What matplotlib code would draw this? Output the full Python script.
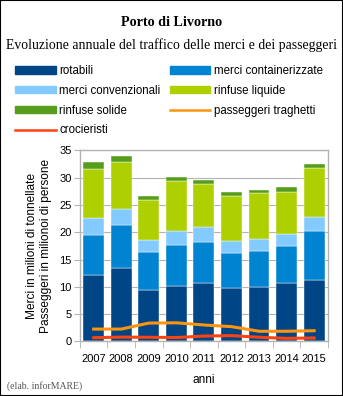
import numpy as np
import matplotlib.pyplot as plt
from matplotlib.patches import Patch, Rectangle
from matplotlib.lines import Line2D

anni = ['2007', '2008', '2009', '2010', '2011', '2012', '2013', '2014', '2015']

# merci (milioni di tonnellate)
rotabili = [12.2, 13.4, 9.4, 10.2, 10.7, 9.7, 9.9, 10.7, 11.3]
containerizzate = [7.3, 7.95, 7.0, 7.4, 7.6, 6.5, 6.6, 6.7, 8.9]
convenzionali = [3.1, 2.85, 2.2, 2.6, 2.7, 2.2, 2.3, 2.2, 2.6]
rinfuse_liquide = [9.0, 8.6, 7.4, 9.2, 7.8, 8.3, 8.4, 7.8, 9.0]
rinfuse_solide = [1.2, 1.2, 0.7, 0.8, 0.8, 0.7, 0.6, 0.9, 0.8]

# passeggeri (milioni di persone)
traghetti = [2.25, 2.25, 3.35, 3.4, 3.0, 2.7, 1.85, 1.85, 1.95]
crocieristi = [0.67, 0.78, 0.75, 0.7, 0.97, 1.05, 0.75, 0.55, 0.62]

serie = [
    ('rotabili', rotabili, '#004586'),
    ('merci containerizzate', containerizzate, '#0084d1'),
    ('merci convenzionali', convenzionali, '#83caff'),
    ('rinfuse liquide', rinfuse_liquide, '#aecf00'),
    ('rinfuse solide', rinfuse_solide, '#579d1c'),
]

sans = 'Liberation Sans'
serif = 'Liberation Serif'

fig = plt.figure(figsize=(3.43, 3.96), dpi=100)
fig.patches.append(Rectangle((0, 0), 1, 1, transform=fig.transFigure,
                             fill=False, edgecolor='black', linewidth=1.5))

ax = fig.add_axes([0.233, 0.138, 0.723, 0.482])
x = np.arange(len(anni))
base = np.zeros(len(anni))
handles = {}
for nome, vals, col in serie:
    ax.bar(x, vals, width=0.76, bottom=base, color=col, edgecolor='white',
           linewidth=0.3, zorder=2)
    base += np.array(vals)
    handles[nome] = Patch(facecolor=col, edgecolor=col)

ax.plot(x, traghetti, color='#ff950e', linewidth=2.2, zorder=3)
ax.plot(x, crocieristi, color='#ff420e', linewidth=2.2, zorder=3)
handles['passeggeri traghetti'] = Line2D([], [], color='#ff950e', linewidth=1.8)
handles['crocieristi'] = Line2D([], [], color='#ff420e', linewidth=1.8)

ax.set_xlim(-0.5, len(anni) - 0.5)
ax.set_ylim(0, 35)
ax.set_yticks(range(0, 36, 5))
ax.set_xticks(x)
ax.set_xticklabels(anni, fontsize=8, family=sans)
ax.set_xticks(np.arange(-0.5, len(anni)), minor=True)
ax.tick_params(axis='x', which='major', length=0, pad=9)
ax.tick_params(axis='x', which='minor', length=5, color='#b3b3b3')
ax.tick_params(axis='y', length=4, color='#b3b3b3', labelsize=8, pad=2)
for lab in ax.get_yticklabels():
    lab.set_family(sans)
ax.yaxis.grid(True, color='#b3b3b3', linewidth=0.8, zorder=0)
ax.set_axisbelow(True)
for s in ax.spines.values():
    s.set_color('#b3b3b3')
    s.set_linewidth(1)

ax.set_ylabel('Merci in milioni di tonnellate\nPasseggeri in milionoi di persone',
              fontsize=8.6, family=sans, labelpad=5, linespacing=1.2)
ax.set_xlabel('anni', fontsize=8.6, family=sans, labelpad=7)

fig.text(0.5, 0.944, 'Porto di Livorno', ha='center', va='center',
         fontsize=10.2, fontweight='bold', family=serif)
fig.text(0.5, 0.886, 'Evoluzione annuale del traffico delle merci e dei passeggeri',
         ha='center', va='center', fontsize=9.9, family=serif)
fig.text(0.02, 0.026, '(elab. inforMARE)', ha='left', va='center',
         fontsize=7, family=serif, color='#555555')

ordine = ['rotabili', 'merci convenzionali', 'rinfuse solide', 'crocieristi',
          'merci containerizzate', 'rinfuse liquide', 'passeggeri traghetti']
fig.legend([handles[k] for k in ordine], ordine, ncol=2,
           loc='upper left', bbox_to_anchor=(0.045, 0.836),
           frameon=False, prop={'family': sans, 'size': 8.3},
           handlelength=3.5, handleheight=0.6, handletextpad=0.3,
           columnspacing=0.8, labelspacing=0.68, borderpad=0, borderaxespad=0)

fig.savefig('out.png', dpi=100)
